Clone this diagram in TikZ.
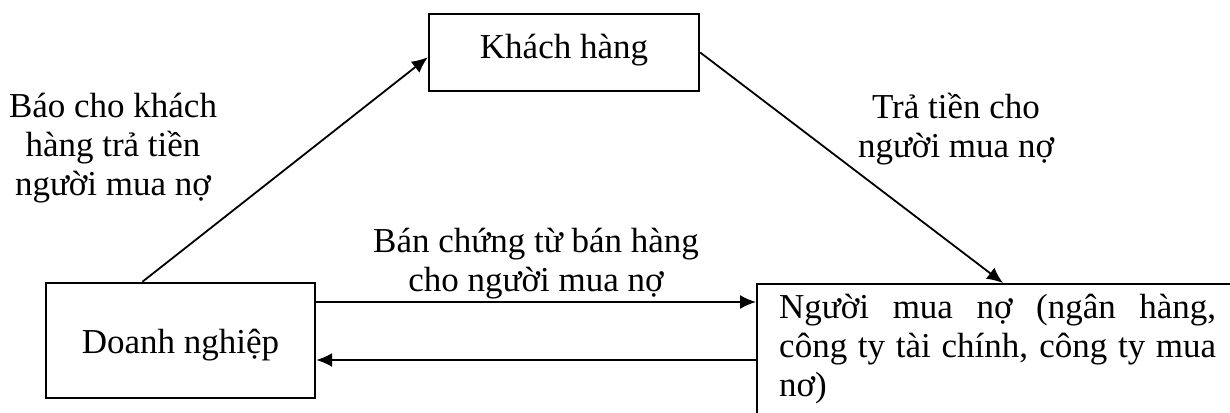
\documentclass[tikz,border=0pt]{standalone}
\usepackage{fontspec}
\setmainfont{Liberation Serif}
\usetikzlibrary{arrows.meta}
\tikzset{
    box/.style={draw, line width=1.2pt, inner sep=0pt},
    every node/.style={font=\fontsize{17.5}{19.5}\selectfont}
}
\begin{document}
\begin{tikzpicture}[x=0.5pt, y=-0.5pt, line width=0.9pt, >={Latex[length=8pt,width=7pt]}]
                \useasboundingbox (0,0) rectangle (1230,412);
                \clip (0,0) rectangle (1230,412);
                \node[box, minimum width=135pt, minimum height=38.5pt, text height=12pt, text depth=6.5pt] (kh) at (564,52.5) {Khách hàng};
                \node[box, minimum width=134.5pt, minimum height=57.5pt, text height=12.5pt, text depth=0pt] (dn) at (180.5,340.5) {Doanh nghiệp};
                \node[box, anchor=north west, text width=218.5pt, align=justify, inner xsep=11pt, inner ysep=5pt, text depth=55pt] (nm) at (756,283)
                    {Người mua nợ (ngân hàng,\linebreak công ty tài chính, công ty mua\linebreak nơ)};
                \node[align=center] (lbao) at (113,148) {Báo cho khách\\hàng trả tiền\\người mua nợ};
                \node[align=center] (ltra) at (956,129) {Trả tiền cho\\người mua nợ};
                \node[align=center] (lban) at (536,264) {Bán chứng từ bán hàng\\cho người mua nợ};
                \draw[->] (dn.123) -- (kh.182);
                \draw[->] (kh.east) -- ([xshift=123.5pt]nm.north west);
                \draw[->] ([yshift=19.25pt]dn.east) -- ([yshift=19.25pt]dn.east -| nm.west);
                \draw[->] ([yshift=-9.75pt]dn.east -| nm.west) -- ([yshift=-9.75pt]dn.east);
            \end{tikzpicture}
\end{document}
